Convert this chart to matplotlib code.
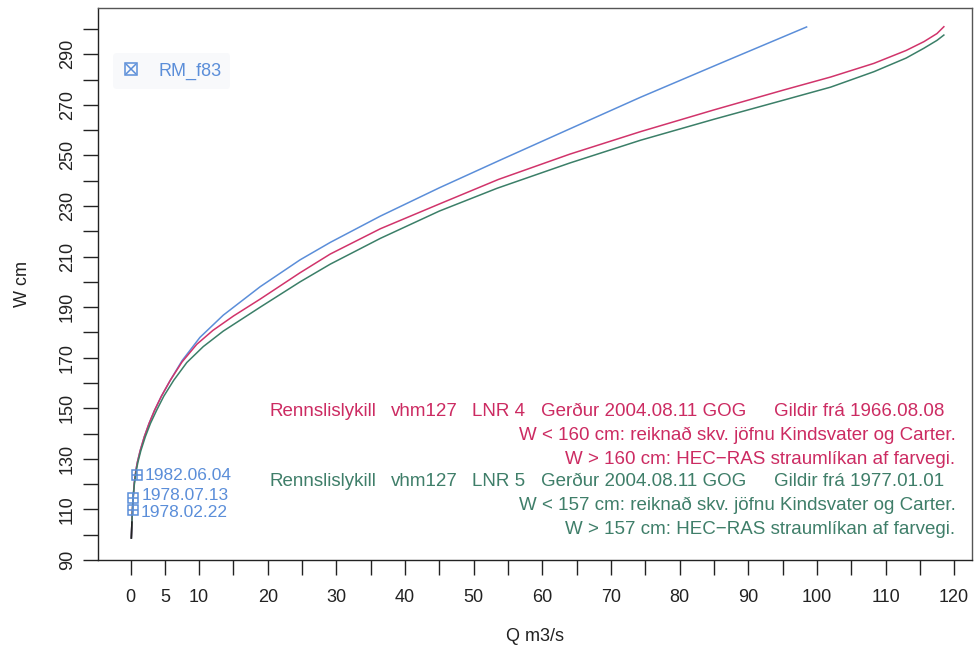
import matplotlib
matplotlib.use("Agg")
import matplotlib.pyplot as plt
from matplotlib.lines import Line2D
from matplotlib.legend_handler import HandlerTuple

plt.rcParams['font.family'] = ['Liberation Sans', 'DejaVu Sans']

# Rating curve RM_f83 (discharge Q in m3/s, stage W in cm)
q_rm = [0.12, 0.2, 0.3, 0.42, 0.55, 0.7, 0.85, 1.0, 1.4, 2.0, 2.7, 3.5, 4.5, 5.8,
        7.5, 10.1, 13.5, 18.9, 24.7, 29.1, 36.4, 45.0, 53.9, 64.0, 74.3, 86.0, 98.5]
w_rm = [98.7, 105.0, 111.0, 116.0, 120.5, 123.8, 126.5, 128.7, 133.2, 138.7, 144.0,
        149.2, 154.8, 161.1, 168.8, 178.0, 186.8, 198.1, 208.7, 215.6, 226.0, 237.2,
        248.2, 260.5, 273.0, 286.5, 300.8]

# Rating curve LNR 4
q_lnr4 = [0.12, 0.2, 0.3, 0.42, 0.55, 0.7, 0.85, 1.0, 1.4, 2.0, 2.7, 3.5, 4.5, 5.8,
          7.5, 9.65, 12.0, 15.0, 18.9, 24.7, 29.1, 36.4, 45.0, 53.6, 64.0, 74.3,
          85.0, 95.2, 102.0, 108.3, 113.0, 115.6, 117.5, 118.5]
w_lnr4 = [98.7, 105.0, 111.0, 116.0, 120.5, 123.8, 126.5, 128.7, 133.2, 138.7, 144.0,
          149.2, 154.8, 161.1, 168.3, 175.3, 180.8, 186.5, 193.2, 203.6, 211.0, 221.0,
          230.8, 240.5, 250.5, 259.4, 268.0, 275.9, 281.0, 286.4, 291.5, 295.0, 298.2,
          300.9]

# Rating curve LNR 5
q_lnr5 = [0.12, 0.2, 0.3, 0.42, 0.58, 0.75, 0.92, 1.08, 1.5, 2.15, 2.9, 3.8, 4.85,
          6.3, 8.2, 10.6, 13.5, 18.9, 24.7, 29.1, 36.4, 45.0, 53.4, 64.0, 74.3, 85.0,
          95.2, 102.0, 108.3, 113.0, 115.6, 117.5, 118.5]
w_lnr5 = [98.7, 105.0, 111.0, 116.0, 120.5, 123.8, 126.5, 128.7, 133.2, 138.7, 144.0,
          149.2, 154.8, 161.1, 168.1, 174.4, 180.5, 190.0, 200.0, 207.0, 217.2, 228.0,
          237.0, 247.0, 256.0, 264.3, 271.9, 277.0, 283.1, 288.5, 292.4, 295.5, 297.6]

# Lowest part of the curves (common section)
q_low = [0.12, 0.2]
w_low = [98.7, 105.0]

# Discharge measurements
meas_q = [0.9, 0.4, 0.3]
meas_w = [123.6, 114.5, 109.9]
meas_dates = ['1982.06.04', '1978.07.13', '1978.02.22']
label_shift = [0, 2, -2]   # points, keeps the two 1978 labels apart

x_ticks = [0, 5, 10, 20, 30, 40, 50, 60, 70, 80, 90, 100, 110, 120]
x_minor = [15, 25, 35, 45, 55, 65, 75, 85, 95, 105, 115]
y_ticks = [90, 110, 130, 150, 170, 190, 210, 230, 250, 270, 290]
y_minor = [100, 120, 140, 160, 180, 200, 220, 240, 260, 280, 300]

blue = '#5b8ed9'
red = '#d1346b'
green = '#3b7f68'
red_txt = '#cc2b62'
green_txt = '#3f7e69'
ink = '#222222'

fig = plt.figure(figsize=(9.76, 6.54), dpi=100)
ax = fig.add_axes([98 / 976, 94 / 654, 874 / 976, 552 / 654])

ax.plot(q_rm, w_rm, color=blue, lw=1.1)
ax.plot(q_lnr4, w_lnr4, color=red, lw=1.1)
ax.plot(q_lnr5, w_lnr5, color=green, lw=1.1)
ax.plot(q_low, w_low, color=ink, lw=1.1)

# measurement markers: square with cross
ax.plot(meas_q, meas_w, ls='none', marker='s', ms=6.5, mfc='none', mec=blue, mew=1.1)
ax.plot(meas_q, meas_w, ls='none', marker='+', ms=6.5, mec=blue, mew=1.1)
for q, w, d, dy in zip(meas_q, meas_w, meas_dates, label_shift):
    ax.annotate(d, (q, w), xytext=(6, dy), textcoords='offset points',
                ha='left', va='center', color=blue, fontsize=12.5)

ax.set_xlim(-4.74, 122.6)
ax.set_ylim(90, 308.3)

ax.set_xticks(x_ticks)
ax.set_xticks(x_minor, minor=True)
ax.set_yticks(y_ticks)
ax.set_yticks(y_minor, minor=True)
ax.tick_params(axis='both', which='both', direction='out', length=11, width=1.0,
               colors=ink, labelsize=13)
ax.tick_params(axis='x', which='major', pad=10)
ax.tick_params(axis='y', which='major', pad=5)
for lab in ax.get_yticklabels():
    lab.set_rotation(90)
    lab.set_va('center')

for side in ['left', 'bottom', 'top', 'right']:
    ax.spines[side].set_linewidth(1.0)
    ax.spines[side].set_color(ink)
ax.spines['top'].set_color('#555555')
ax.spines['right'].set_color('#555555')

ax.set_xlabel('Q m3/s', fontsize=13, labelpad=16, color=ink)
ax.set_ylabel('W cm', fontsize=13, labelpad=20, color=ink)

# legend
h_sq = Line2D([], [], ls='none', marker='s', ms=9, mfc='none', mec=blue, mew=1.1)
h_x = Line2D([], [], ls='none', marker='x', ms=7, mec=blue, mew=1.1)
leg = ax.legend([(h_sq, h_x)], ['RM_f83'], handler_map={tuple: HandlerTuple(ndivide=1)},
                loc='center left', bbox_to_anchor=(0.007, 0.886), frameon=True,
                fontsize=13, labelcolor=blue, handlelength=1.0, handletextpad=1.0,
                borderpad=0.5)
leg.get_frame().set_facecolor('#f7f8fa')
leg.get_frame().set_edgecolor('none')

# rating curve descriptions
fs = 13.5
for color, wy, lnr, made, valid, limit in [
        (red_txt, 148.6, 'LNR 4', 'Gerður 2004.08.11 GOG', 'Gildir frá 1966.08.08', '160'),
        (green_txt, 121.0, 'LNR 5', 'Gerður 2004.08.11 GOG', 'Gildir frá 1977.01.01', '157')]:
    for xq, s in [(20.3, 'Rennslislykill'), (38.0, 'vhm127'), (49.8, lnr),
                  (59.8, made), (93.8, valid)]:
        ax.text(xq, wy, s, color=color, fontsize=fs, ha='left', va='center')
    ax.text(120.2, wy - 9.5, f'W < {limit} cm: reiknað skv. jöfnu Kindsvater og Carter.',
            color=color, fontsize=fs, ha='right', va='center')
    ax.text(120.2, wy - 19.0, f'W > {limit} cm: HEC\u2212RAS straumlíkan af farvegi.',
            color=color, fontsize=fs, ha='right', va='center')

fig.savefig('out.png', dpi=100)
